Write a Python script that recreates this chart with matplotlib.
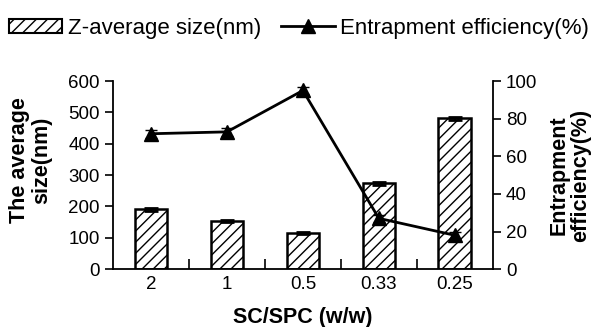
import numpy as np
import matplotlib
matplotlib.use('Agg')
import matplotlib.pyplot as plt
from matplotlib.patches import Patch
from matplotlib.lines import Line2D

plt.rcParams['font.family'] = ['Liberation Sans', 'DejaVu Sans']
plt.rcParams['hatch.linewidth'] = 1.0

# data
ratios = ['2', '1', '0.5', '0.33', '0.25']
size_nm = [191, 153, 114, 274, 481]
size_err = [4, 4, 3, 4, 5]
efficiency = [72, 73, 95, 27, 18]
eff_err = [2, 2, 2, 2, 2]

fig = plt.figure(figsize=(5.98, 3.27), dpi=100)
ax = fig.add_axes([0.189, 0.177, 0.635, 0.575])
x = np.arange(len(ratios))

ax.bar(x, size_nm, width=0.43, color='white', edgecolor='black',
       linewidth=1.8, hatch='///', yerr=size_err,
       error_kw=dict(ecolor='black', elinewidth=1.5, capsize=5, capthick=2))
ax.set_xlim(-0.5, len(ratios) - 0.5)
ax.set_ylim(0, 600)
ax.set_yticks(np.arange(0, 601, 100))
ax.set_xticks(x)
ax.set_xticklabels(ratios)
ax.set_xticks(x[:-1] + 0.5, minor=True)
ax.tick_params(axis='x', which='major', length=0, pad=5, labelsize=13.5)
ax.tick_params(axis='x', which='minor', direction='in', length=7, width=1.2)
ax.tick_params(axis='y', direction='out', length=6, width=1.2, labelsize=13.5)
ax.spines['top'].set_visible(False)
ax.spines['right'].set_visible(False)
for s in ['left', 'bottom']:
    ax.spines[s].set_linewidth(1.3)
ax.set_ylabel('The average\nsize(nm)', fontsize=15.5, fontweight='bold',
              linespacing=1.05)
ax.yaxis.set_label_coords(-0.16, 0.58)
ax.set_xlabel('SC/SPC (w/w)', fontsize=15.5, fontweight='bold', labelpad=10)

ax2 = ax.twinx()
ax2.errorbar(x, efficiency, yerr=eff_err, color='black', linewidth=2,
             marker='^', markersize=10, capsize=4, elinewidth=1.5)
ax2.set_ylim(0, 100)
ax2.set_yticks(np.arange(0, 101, 20))
ax2.tick_params(axis='y', direction='out', length=6, width=1.2, labelsize=13.5)
ax2.spines['top'].set_visible(False)
ax2.spines['left'].set_visible(False)
ax2.spines['bottom'].set_visible(False)
ax2.spines['right'].set_linewidth(1.3)
ax2.set_ylabel('Entrapment\nefficiency(%)', fontsize=15.5, fontweight='bold',
               linespacing=1.05, labelpad=8)

handles = [Patch(facecolor='white', edgecolor='black', hatch='///', linewidth=1.5),
           Line2D([0], [0], color='black', linewidth=2, marker='^', markersize=10)]
fig.legend(handles, ['Z-average size(nm)', 'Entrapment efficiency(%)'],
           loc='upper center', bbox_to_anchor=(0.5, 1.0), ncol=2, frameon=False,
           fontsize=16, handlelength=2.4, handleheight=0.6, handletextpad=0.25,
           columnspacing=0.9, borderaxespad=0.4)

fig.savefig('out.png', dpi=100)
